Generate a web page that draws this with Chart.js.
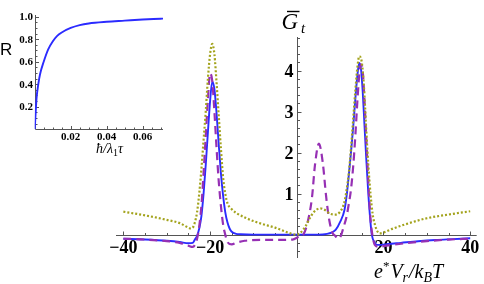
<!DOCTYPE html>
<html><head><meta charset="utf-8">
<script src="https://cdn.jsdelivr.net/npm/chart.js@4"></script>
<style>
html,body{margin:0;padding:0;background:#fff;overflow:hidden}
#wrap{position:relative;width:484px;height:284px}
#main,#inset{position:absolute;left:0;top:0}
</style></head><body>
<div id="wrap"><canvas id="main" width="484" height="284"></canvas><canvas id="inset" width="180" height="160"></canvas></div>
<script>
// ---- main chart data ----
const blueX = [-40,-35,-30,-27,-25,-24,-23.5,-23,-22.5,-22,-21.5,-21,-20.5,-20,-19.5,-19,-18.5,-18,-17.5,-17,-16.5,-16,-15.5,-15,-14,-13,-10,-5,0,5,7,8,9,10,11,11.5,12,12.5,13,13.5,14,14.4,14.8,15.2,15.6,16,16.5,17,17.3,18,18.5,19.5,21,24,28,32,36,40];
const blueY = [-0.10,-0.12,-0.15,-0.18,-0.21,-0.20,-0.12,-0.03,0.15,0.45,1.0,1.7,2.5,3.25,3.73,3.55,2.95,2.2,1.5,0.95,0.55,0.3,0.15,0.07,0.02,0.01,0,0,0,0,0.02,0.05,0.12,0.31,0.6,0.95,1.45,2.0,2.6,3.3,3.9,4.19,4.05,3.5,2.7,1.9,1.0,0.3,0.0,-0.2,-0.25,-0.25,-0.23,-0.2,-0.16,-0.13,-0.11,-0.09];

const purpleX = [-40,-35,-30,-27,-25,-24,-23.5,-23,-22.5,-22,-21.5,-21,-20.5,-20,-19.5,-19,-18.5,-18,-17.5,-17,-16.5,-16,-15,-14,-12,-8,-4,-1,0.5,1.5,2.5,3.5,4.2,5.1,6,6.8,7.5,8.2,8.8,9.6,10.2,10.7,11.5,12,12.5,13,13.5,14,14.5,14.8,15.2,15.6,16,16.5,17,17.5,18,19,20,22,25,30,35,40];
const purpleY = [-0.10,-0.12,-0.16,-0.2,-0.27,-0.30,-0.25,-0.1,0.2,0.7,1.5,2.4,3.3,3.93,3.75,3.0,2.1,1.3,0.7,0.25,0.0,-0.18,-0.24,-0.2,-0.15,-0.13,-0.13,-0.12,-0.05,0.0,0.3,0.9,1.7,2.22,1.75,0.9,0.35,0.05,-0.02,-0.1,-0.02,0.15,0.45,0.75,1.1,1.65,2.4,3.3,4.0,4.15,4.0,3.3,2.4,1.3,0.4,-0.05,-0.25,-0.3,-0.28,-0.25,-0.21,-0.16,-0.12,-0.10];

const oliveX = [-40,-35,-30,-27,-25,-24.5,-24,-23.5,-23,-22.5,-22,-21.5,-21,-20.5,-20,-19.5,-19,-18.5,-18,-17.5,-17,-16.5,-16,-15,-14,-12,-10,-8,-5,-3,-1.5,0,1,2,3,4,5.4,6.5,7.5,8.8,10,11,11.5,12,12.5,13,13.5,14,14.4,15,15.5,16,16.5,17,17.5,18,18.5,19.1,20,22,25,30,35,40];
const oliveY = [0.56,0.47,0.36,0.28,0.17,0.15,0.17,0.3,0.55,1.0,1.6,2.3,3.0,3.8,4.4,4.65,4.4,3.7,2.9,2.1,1.4,1.0,0.77,0.62,0.53,0.42,0.33,0.26,0.17,0.09,0.03,0.0,0.06,0.2,0.4,0.56,0.64,0.6,0.52,0.49,0.56,0.8,1.1,1.5,2.1,2.8,3.5,4.1,4.35,4.2,3.6,2.6,1.7,1.0,0.5,0.25,0.1,0.03,0.05,0.14,0.25,0.4,0.49,0.57];

const xTickValues = [-40,-20,20,40];
const xTickLabels = ['\u221240','\u221220','20','40'];
const yTickValues = [1,2,3,4];
const yTickLabels = ['1','2','3','4'];

// ---- inset data ----
const insetX = [0,0.0003,0.001,0.002,0.003,0.005,0.0075,0.01,0.0125,0.015,0.02,0.025,0.03,0.04,0.05,0.06,0.07,0.0713];
const insetR = [0,0.08,0.27,0.40,0.49,0.60,0.71,0.78,0.83,0.86,0.90,0.925,0.94,0.955,0.965,0.975,0.982,0.983];
const insetXTickValues = [0.02,0.04,0.06];
const insetXTickLabels = ['0.02','0.04','0.06'];
const insetYTickValues = [0.2,0.4,0.6,0.8,1.0];
const insetYTickLabels = ['0.2','0.4','0.6','0.8','1.0'];

const pts = (xs, ys) => xs.map((v,i)=>({x:v,y:ys[i]}));
const AXIS = '#555';
const SERIF = '"Liberation Serif", serif';

function drawSeq(ctx, x, y, parts){
  for(const p of parts){
    ctx.font = p.f;
    ctx.fillText(p.t, x, y + (p.dy||0));
    x += ctx.measureText(p.t).width + (p.gap||0);
  }
}

const mainAxes = {
  id:'mainAxes',
  beforeDatasetsDraw(chart){
    const {ctx, scales:{x,y}} = chart;
    const x0 = Math.round(x.getPixelForValue(0))+0.5;
    const y0 = Math.round(y.getPixelForValue(0))+0.5;
    ctx.save();
    ctx.strokeStyle = AXIS; ctx.lineWidth = 1;
    ctx.beginPath();
    ctx.moveTo(x.left, y0); ctx.lineTo(x.right, y0);
    ctx.moveTo(x0, y.top); ctx.lineTo(x0, y.bottom);
    for(let v=-40; v<=40; v+=5){
      if(v===0) continue;
      const px = Math.round(x.getPixelForValue(v))+0.5;
      const len = xTickValues.includes(v) ? 4 : 2.5;
      ctx.moveTo(px, y0); ctx.lineTo(px, y0-len);
    }
    for(let i=-2; i<=24; i++){
      if(i===0) continue;
      const py = Math.round(y.getPixelForValue(i*0.2))+0.5;
      const len = (i%5===0) ? 4 : 2.5;
      ctx.moveTo(x0, py); ctx.lineTo(x0+len, py);
    }
    ctx.stroke();
    ctx.fillStyle = '#000';
    ctx.font = 'bold 18px '+SERIF;
    ctx.textAlign = 'center'; ctx.textBaseline = 'alphabetic';
    xTickValues.forEach((v,i)=>{
      ctx.fillText(xTickLabels[i], x.getPixelForValue(v), y0+17.5);
    });
    ctx.textAlign = 'right';
    yTickValues.forEach((v,i)=>{
      ctx.fillText(yTickLabels[i], x0-4, y.getPixelForValue(v)+6);
    });
    // title G-bar_t
    ctx.textAlign = 'left';
    ctx.font = 'italic 23px '+SERIF;
    ctx.fillText('G', 281.5, 28.5);
    ctx.beginPath(); ctx.strokeStyle='#000'; ctx.lineWidth=1.4;
    ctx.moveTo(287, 11.5); ctx.lineTo(299.5, 11.5); ctx.stroke();
    ctx.font = 'italic 15px '+SERIF;
    ctx.fillText('t', 301, 32.5);
    // x axis label
    const big = 'italic 20px '+SERIF, sm = 'italic 14px '+SERIF;
    drawSeq(ctx, 374, 278, [
      {t:'e', f:big},{t:'*', f:'13px '+SERIF, dy:-8, gap:1},{t:'V', f:big},{t:'r', f:sm, dy:4, gap:1},
      {t:'/', f:big},{t:'k', f:big},{t:'B', f:sm, dy:4},{t:'T', f:big}
    ]);
    ctx.restore();
  }
};

new Chart(document.getElementById('main'), {
  type:'scatter',
  data:{datasets:[
    {data:pts(oliveX,oliveY), showLine:true, borderColor:'#a3a31c', borderWidth:2.2, borderDash:[2,2], pointRadius:0, cubicInterpolationMode:'monotone'},
    {data:pts(purpleX,purpleY), showLine:true, borderColor:'#9630b4', borderWidth:2.2, borderDash:[8,5], pointRadius:0, cubicInterpolationMode:'monotone'},
    {data:pts(blueX,blueY), showLine:true, borderColor:'#2b2bff', borderWidth:1.9, pointRadius:0, cubicInterpolationMode:'monotone'}
  ]},
  options:{
    responsive:false, animation:false, devicePixelRatio:1,
    layout:{padding:{left:116, right:7.3, top:37, bottom:26}},
    plugins:{legend:{display:false}, tooltip:{enabled:false}},
    scales:{
      x:{type:'linear', min:-41.7, max:41.5, display:false},
      y:{type:'linear', min:-0.57, max:4.82, display:false}
    }
  },
  plugins:[mainAxes]
});

const insetAxes = {
  id:'insetAxes',
  beforeDatasetsDraw(chart){
    const {ctx, scales:{x,y}} = chart;
    const x0 = Math.round(x.getPixelForValue(0))+0.5;
    const y0 = Math.round(y.getPixelForValue(0))+0.5;
    ctx.save();
    ctx.strokeStyle = AXIS; ctx.lineWidth = 1;
    ctx.beginPath();
    ctx.moveTo(x0, y0); ctx.lineTo(x.right, y0);
    ctx.moveTo(x0, y0); ctx.lineTo(x0, y.top);
    for(let i=1; i*0.005<=0.0713; i++){
      const px = Math.round(x.getPixelForValue(i*0.005))+0.5;
      const len = (i%4===0)?3.5:2;
      ctx.moveTo(px,y0); ctx.lineTo(px,y0-len);
    }
    for(let i=1; i<=20; i++){
      const py = Math.round(y.getPixelForValue(i*0.05))+0.5;
      const len = (i%4===0)?3.5:2;
      ctx.moveTo(x0,py); ctx.lineTo(x0+len,py);
    }
    ctx.stroke();
    ctx.fillStyle='#000';
    ctx.font = 'bold 11px '+SERIF;
    ctx.textAlign='center';
    insetXTickValues.forEach((v,i)=>ctx.fillText(insetXTickLabels[i], x.getPixelForValue(v), y0+10.5));
    ctx.textAlign='right';
    insetYTickValues.forEach((v,i)=>ctx.fillText(insetYTickLabels[i], x0-2.5, y.getPixelForValue(v)+3.8));
    ctx.textAlign='left';
    ctx.font = '17px "Liberation Sans", sans-serif';
    ctx.fillText('R', 0, 55);
    const f = 'italic 14px '+SERIF;
    drawSeq(ctx, 96, 153, [
      {t:'\u0127', f:f},{t:'/', f:f},{t:'\u03bb', f:f},{t:'1', f:'10px '+SERIF, dy:3},{t:'\u03c4', f:f}
    ]);
    ctx.restore();
  }
};

new Chart(document.getElementById('inset'), {
  type:'scatter',
  data:{datasets:[
    {data:pts(insetX,insetR), showLine:true, borderColor:'#2b2bff', borderWidth:1.9, pointRadius:0, cubicInterpolationMode:'monotone'}
  ]},
  options:{
    responsive:false, animation:false, devicePixelRatio:1,
    layout:{padding:{left:34.7, right:17, top:15, bottom:30.8}},
    plugins:{legend:{display:false}, tooltip:{enabled:false}},
    scales:{
      x:{type:'linear', min:0, max:0.0713, display:false},
      y:{type:'linear', min:0, max:1.015, display:false}
    }
  },
  plugins:[insetAxes]
});
</script>
</body></html>
